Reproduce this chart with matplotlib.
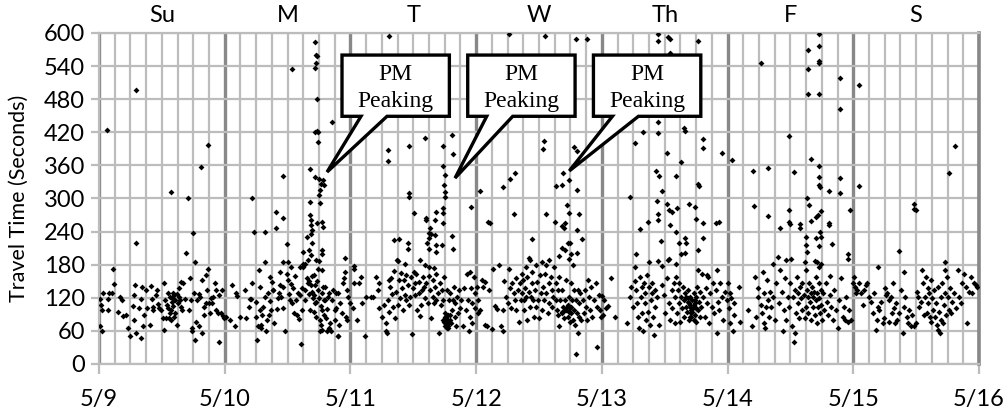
import numpy as np
from matplotlib import pyplot as plt
from matplotlib.patches import Polygon

plt.rcParams['font.family'] = ['Lato', 'DejaVu Sans']

# day names across the top, date labels along the bottom
day_names = ['Su', 'M', 'T', 'W', 'Th', 'F', 'S']
date_labels = ['5/9', '5/10', '5/11', '5/12', '5/13', '5/14', '5/15', '5/16']

# (hour of day, travel time in seconds)
sun = [(0.2, 69), (0.5, 60), (0.2, 118), (0.4, 107), (0.5, 98), (0.7, 129), (1.7, 98), (1.8, 118),
       (2.0, 129), (2.4, 129), (2.7, 172), (2.9, 145), (3.7, 95), (4.1, 122), (4.4, 116), (4.6, 87),
       (5.1, 89), (5.5, 66), (6.0, 50), (6.4, 105), (6.6, 125), (6.7, 80), (6.9, 144), (7.0, 56),
       (7.0, 219), (7.7, 101), (8.0, 47), (8.1, 118), (8.3, 139), (8.4, 68), (8.6, 89), (9.0, 135),
       (9.1, 101), (9.7, 71), (9.9, 141), (10.1, 117), (10.3, 104), (10.4, 98), (10.8, 125), (11.0, 135),
       (11.2, 109), (11.5, 101), (11.9, 98), (12.2, 84), (12.4, 146), (12.4, 62), (12.6, 116), (12.8, 83),
       (13.1, 128), (13.2, 101), (13.4, 83), (13.7, 80), (13.8, 98), (14.0, 119), (14.2, 129), (14.3, 86),
       (14.5, 92), (14.6, 116), (14.8, 126), (14.9, 71), (15.0, 110), (15.2, 122), (15.3, 137), (15.4, 116),
       (15.6, 104), (15.7, 149), (15.9, 98), (16.1, 147), (16.4, 117), (16.7, 202), (17.1, 98), (17.3, 155),
       (17.6, 116), (17.7, 59), (17.8, 65), (18.0, 237), (18.1, 128), (18.3, 43), (18.4, 185), (18.6, 77),
       (18.7, 116), (19.0, 127), (19.1, 68), (19.2, 122), (19.6, 152), (19.7, 57), (20.0, 89), (20.1, 104),
       (20.4, 161), (20.5, 110), (20.6, 135), (20.8, 173), (21.0, 110), (21.1, 93), (21.3, 119), (21.5, 110),
       (21.8, 121), (22.1, 146), (22.3, 98), (22.4, 135), (22.7, 92), (22.9, 125), (23.0, 40), (23.2, 92),
       (23.4, 134), (23.6, 87), (23.8, 83), (1.6, 424), (7.0, 496), (20.8, 397), (19.4, 358), (13.7, 312),
       (17.0, 300), (13.5, 122), (13.9, 112), (14.1, 105), (13.6, 92), (14.4, 125), (12.9, 107)]

mon = [(0.3, 86), (1.0, 80), (1.3, 143), (2.0, 68), (2.1, 129), (2.3, 123), (2.9, 86), (3.8, 135),
       (4.1, 83), (4.6, 104), (4.9, 117), (5.1, 117), (5.3, 146), (5.9, 113), (6.0, 86), (6.2, 43),
       (6.3, 68), (6.7, 98), (6.8, 140), (6.9, 65), (7.0, 71), (7.2, 89), (7.3, 103), (7.6, 122),
       (7.9, 59), (8.1, 80), (8.3, 129), (8.4, 89), (8.6, 158), (8.7, 115), (8.9, 98), (9.0, 149),
       (9.2, 135), (9.3, 134), (9.5, 75), (10.0, 99), (10.2, 119), (10.3, 129), (10.5, 143), (10.6, 166),
       (10.8, 122), (11.1, 101), (11.2, 140), (11.6, 59), (11.9, 164), (12.1, 152), (12.2, 127), (12.4, 116),
       (12.6, 145), (12.9, 110), (13.0, 137), (13.3, 92), (13.5, 159), (13.7, 116), (13.8, 89), (14.0, 129),
       (14.2, 81), (14.3, 125), (14.5, 36), (14.7, 98), (14.8, 137), (15.3, 116), (15.4, 134), (15.8, 155),
       (15.9, 146), (16.1, 127), (16.2, 98), (16.5, 143), (16.7, 131), (17.0, 161), (17.1, 125), (17.2, 110),
       (17.3, 143), (17.5, 86), (17.8, 135), (18.0, 119), (18.2, 59), (18.5, 98), (18.6, 129), (18.9, 116),
       (19.0, 89), (19.1, 140), (19.2, 116), (19.4, 83), (19.7, 122), (19.9, 65), (20.0, 129), (20.3, 60),
       (20.5, 116), (20.6, 134), (21.0, 98), (21.3, 129), (21.6, 50), (21.8, 71), (23.0, 167), (22.8, 155),
       (23.4, 134), (23.6, 122), (23.9, 110), (21.7, 128), (22.0, 110), (22.3, 92), (23.2, 86), (21.7, 51),
       (21.0, 80), (21.3, 101), (22.6, 146), (23.4, 80), (16.0, 150), (16.9, 120), (17.4, 112), (18.3, 105),
       (17.7, 150), (16.6, 160), (18.8, 140), (19.5, 100), (17.0, 95), (18.1, 80), (18.4, 70), (18.6, 62),
       (19.6, 60), (20.1, 75),
       (17.3, 583), (17.5, 561), (17.6, 558), (17.5, 545), (17.3, 537), (12.9, 535), (17.7, 480), (20.4, 439),
       (17.3, 421), (17.7, 422), (17.9, 421), (17.8, 403), (16.2, 353), (11.1, 340), (17.3, 339), (18.0, 336),
       (18.8, 334), (18.4, 327), (19.0, 324), (18.2, 316), (18.0, 306), (5.3, 300), (16.3, 294), (18.2, 292),
       (9.8, 276), (16.3, 270), (11.1, 264), (16.4, 261), (18.5, 258), (18.7, 249), (9.8, 246), (16.4, 252),
       (17.6, 256), (5.5, 240), (7.7, 240), (16.6, 243), (16.4, 235), (11.9, 217), (15.8, 230), (16.6, 219),
       (16.1, 206), (18.5, 206), (18.6, 200), (16.4, 197), (15.9, 188), (17.5, 188), (18.0, 187), (15.3, 182),
       (22.9, 193), (11.2, 184), (12.1, 185), (7.7, 184), (15.0, 176), (17.9, 173), (18.5, 171), (6.5, 170),
       (14.4, 176), (14.9, 182), (15.0, 203), (12.7, 176)]

tue = [(0.4, 101), (0.6, 146), (1.2, 80), (1.6, 147), (2.0, 158), (2.3, 111), (2.7, 50), (3.0, 122),
       (3.9, 122), (4.3, 122), (4.9, 158), (5.2, 134), (5.4, 146), (5.5, 101), (6.1, 85), (6.5, 107),
       (6.7, 59), (6.8, 74), (6.9, 56), (7.1, 116), (7.3, 152), (7.4, 95), (7.6, 140), (7.7, 155),
       (7.9, 126), (8.1, 104), (8.4, 169), (8.5, 83), (8.7, 131), (9.1, 107), (9.3, 152), (9.5, 119),
       (9.7, 165), (9.8, 137), (10.1, 98), (10.3, 152), (10.4, 125), (10.6, 161), (10.7, 116), (10.9, 143),
       (11.2, 107), (11.4, 122), (11.6, 158), (11.7, 54), (11.9, 137), (12.1, 167), (12.3, 146), (12.4, 125),
       (12.5, 164), (12.7, 98), (13.0, 149), (13.1, 128), (13.3, 87), (13.5, 107), (13.7, 134), (13.8, 158),
       (14.1, 140), (14.3, 119), (14.4, 147), (14.8, 110), (15.0, 159), (15.2, 134), (15.4, 83), (15.7, 122),
       (15.8, 152), (15.9, 110), (16.2, 140), (16.3, 164), (16.4, 116), (16.7, 128), (17.0, 56), (17.1, 146),
       (17.2, 107), (17.5, 134), (17.6, 116), (17.7, 80), (17.8, 157), (18.0, 92), (18.1, 68), (18.2, 83),
       (18.4, 134), (18.5, 71), (18.6, 89), (18.7, 65), (18.9, 116), (19.0, 80), (19.1, 128), (19.2, 74),
       (19.4, 98), (19.6, 116), (19.7, 140), (19.9, 86), (20.0, 110), (20.1, 68), (20.4, 122), (20.6, 92),
       (20.8, 134), (21.0, 101), (21.1, 116), (21.4, 68), (21.7, 137), (22.0, 98), (22.3, 164), (22.5, 116),
       (22.7, 59), (22.8, 86), (23.0, 137), (23.2, 110), (23.3, 74), (23.5, 158), (23.7, 101), (23.8, 128),
       (17.9, 77), (18.2, 72), (18.5, 80), (18.7, 69), (18.9, 77), (18.4, 65), (18.1, 86), (19.0, 89),
       (7.4, 595), (14.3, 409), (19.4, 415), (7.2, 388), (11.1, 395), (17.7, 395), (19.6, 380), (7.2, 368),
       (17.7, 359), (18.0, 342), (17.8, 324), (11.1, 310), (11.1, 303), (18.0, 312), (18.0, 303), (23.1, 284),
       (17.7, 282), (17.7, 274), (16.3, 276), (12.1, 273), (14.5, 265), (14.4, 261), (16.1, 261), (17.7, 256),
       (15.1, 246), (15.0, 237), (15.3, 235), (16.1, 233), (15.0, 228), (19.4, 232), (8.3, 225), (9.3, 226),
       (11.0, 220), (14.7, 220), (16.4, 216), (17.4, 216), (10.9, 209), (19.6, 208), (15.0, 208), (16.3, 203),
       (13.3, 188), (8.8, 188), (9.0, 186), (14.2, 179), (15.0, 176), (16.0, 174), (10.4, 182), (22.9, 167),
       (0.6, 177), (0.7, 172)]

wed = [(0.1, 139), (0.3, 116), (0.4, 92), (0.7, 98), (1.1, 153), (1.3, 140), (1.6, 71), (1.7, 149),
       (2.0, 68), (2.5, 134), (3.1, 63), (3.6, 105), (3.9, 99), (4.8, 69), (5.1, 98), (5.1, 60),
       (5.3, 151), (5.7, 122), (6.0, 110), (6.5, 137), (6.6, 101), (6.9, 146), (7.2, 128), (7.4, 116),
       (7.6, 155), (7.7, 98), (7.9, 134), (8.2, 77), (8.3, 146), (8.5, 116), (8.7, 164), (8.8, 128),
       (9.0, 152), (9.1, 98), (9.2, 116), (9.3, 137), (9.6, 122), (9.7, 80), (9.8, 158), (10.1, 131),
       (10.2, 104), (10.4, 122), (10.6, 146), (10.7, 167), (10.9, 116), (11.0, 86), (11.2, 134), (11.4, 104),
       (11.7, 149), (11.9, 116), (12.0, 83), (12.1, 161), (12.3, 128), (12.6, 98), (12.8, 140), (13.0, 116),
       (13.1, 164), (13.4, 128), (13.8, 92), (13.9, 146), (14.0, 110), (14.2, 158), (14.4, 134), (14.5, 104),
       (14.7, 122), (15.2, 146), (15.3, 116), (15.4, 98), (15.6, 134), (15.7, 89), (15.8, 158), (15.9, 68),
       (16.1, 116), (16.3, 92), (16.4, 134), (16.6, 104), (16.8, 83), (17.0, 116), (17.1, 152), (17.2, 98),
       (17.5, 86), (17.7, 122), (17.8, 104), (18.0, 77), (18.1, 146), (18.2, 92), (18.3, 116), (18.5, 80),
       (18.6, 134), (18.7, 98), (18.9, 71), (19.0, 116), (19.1, 19), (19.2, 92), (19.4, 134), (19.5, 56),
       (19.6, 110), (19.7, 86), (19.9, 128), (20.1, 80), (20.4, 116), (20.6, 92), (20.8, 134), (20.9, 104),
       (21.2, 80), (21.4, 152), (21.5, 122), (21.8, 98), (22.0, 140), (22.2, 86), (22.5, 116), (22.8, 146),
       (23.0, 31), (23.1, 104), (23.4, 125), (23.7, 98), (23.9, 86), (17.2, 101), (17.5, 107), (17.7, 95),
       (17.0, 98), (18.0, 101), (16.4, 95), (18.2, 104),
       (6.3, 599), (13.1, 595), (19.0, 589), (21.1, 589), (13.0, 404), (12.8, 389), (18.6, 394), (19.2, 386),
       (7.4, 347), (6.5, 335), (16.6, 347), (0.8, 313), (5.1, 321), (16.4, 325), (15.3, 322), (17.7, 333),
       (19.2, 316), (17.4, 288), (17.7, 274), (19.6, 271), (7.3, 272), (13.3, 272), (2.3, 258), (2.6, 255),
       (15.0, 258), (16.9, 255), (16.3, 250), (16.7, 246), (19.2, 243), (10.7, 226), (20.3, 226), (17.5, 220),
       (17.9, 219), (16.4, 211), (19.2, 202), (16.9, 206), (18.2, 200), (15.8, 196), (10.1, 193), (10.2, 188),
       (13.9, 188), (17.8, 190), (18.5, 179), (13.4, 179), (3.2, 172), (4.4, 179), (6.3, 173), (9.5, 176),
       (11.5, 179), (12.5, 185), (14.9, 176)]

thu = [(0.1, 123), (0.4, 116), (0.7, 101), (0.2, 89), (1.2, 105), (1.7, 155), (2.5, 86), (4.8, 74),
       (5.3, 122), (5.6, 140), (6.0, 104), (6.3, 151), (6.4, 176), (6.5, 134), (6.7, 110), (6.9, 86),
       (7.0, 65), (7.2, 158), (7.4, 122), (7.6, 140), (7.7, 92), (7.8, 59), (8.0, 146), (8.2, 110),
       (8.3, 128), (8.4, 80), (8.6, 161), (8.8, 95), (9.0, 140), (9.1, 71), (9.3, 116), (9.5, 128),
       (9.6, 146), (9.7, 86), (9.9, 53), (10.1, 104), (10.2, 134), (10.5, 122), (10.9, 71), (11.5, 143),
       (11.8, 125), (12.1, 92), (12.4, 155), (12.9, 110), (13.1, 80), (13.3, 134), (13.4, 101), (13.7, 146),
       (13.9, 74), (14.0, 122), (14.2, 158), (14.4, 92), (14.5, 134), (14.7, 110), (14.8, 146), (15.0, 77),
       (15.2, 122), (15.3, 101), (15.4, 140), (15.6, 116), (15.7, 86), (15.9, 128), (16.0, 104), (16.1, 122),
       (16.3, 95), (16.4, 113), (16.5, 134), (16.6, 80), (16.8, 107), (16.9, 122), (17.0, 98), (17.1, 86),
       (17.3, 116), (17.4, 101), (17.5, 128), (17.7, 89), (17.8, 110), (18.0, 77), (18.0, 122), (18.2, 140),
       (18.3, 98), (18.5, 113), (18.7, 86), (18.8, 131), (19.0, 104), (19.2, 164), (19.4, 122), (19.6, 86),
       (19.9, 137), (20.1, 110), (20.3, 158), (20.5, 74), (20.7, 128), (21.0, 104), (21.3, 146), (21.5, 92),
       (21.8, 134), (22.0, 56), (22.2, 113), (22.4, 98), (22.6, 146), (22.9, 122), (23.2, 80), (23.6, 131),
       (23.9, 116), (16.6, 110), (16.9, 104), (17.3, 95), (17.7, 116), (17.1, 92), (17.6, 107), (17.9, 101),
       (16.5, 119), (16.8, 86), (17.5, 80),
       (10.7, 598), (12.6, 592), (13.1, 589), (18.3, 586), (10.7, 586), (13.0, 563), (13.1, 545), (10.7, 439),
       (10.7, 419), (7.9, 420), (15.6, 428), (15.8, 423), (19.4, 407), (19.4, 391), (6.4, 400), (12.4, 383),
       (23.0, 382), (15.2, 366), (10.4, 350), (11.0, 341), (14.2, 341), (18.3, 327), (18.5, 323), (5.3, 302),
       (11.5, 314), (10.5, 296), (12.4, 290), (12.9, 279), (13.4, 276), (14.3, 282), (16.7, 290), (17.8, 285),
       (10.7, 272), (10.7, 261), (8.9, 258), (18.0, 263), (19.4, 255), (21.8, 256), (22.4, 258), (7.2, 244),
       (13.1, 252), (14.2, 240), (15.8, 228), (11.2, 223), (14.8, 219), (16.1, 220), (19.3, 228), (18.4, 206),
       (15.8, 202), (6.5, 199), (12.9, 191), (12.6, 188), (15.2, 200), (10.7, 187), (9.0, 185), (11.4, 177),
       (14.2, 182), (18.4, 171), (21.9, 170), (20.1, 161)]

fri = [(0.1, 146), (0.4, 128), (0.7, 119), (0.2, 101), (1.3, 110), (0.4, 74), (1.2, 89), (2.3, 77),
       (2.1, 140), (1.0, 59), (3.9, 98), (4.6, 68), (5.3, 158), (5.5, 86), (5.8, 122), (5.9, 137),
       (6.3, 107), (6.5, 92), (6.7, 167), (6.9, 74), (7.0, 128), (7.2, 65), (7.4, 104), (7.6, 152),
       (7.7, 116), (7.9, 86), (8.1, 131), (8.3, 104), (8.6, 122), (9.0, 80), (9.3, 146), (9.9, 110),
       (10.1, 170), (10.3, 131), (10.5, 59), (10.7, 98), (11.0, 155), (11.2, 80), (11.5, 122), (11.8, 104),
       (12.0, 146), (12.3, 68), (12.4, 122), (12.6, 40), (12.8, 134), (12.9, 56), (13.1, 92), (13.3, 158),
       (13.4, 128), (13.5, 110), (13.7, 83), (13.9, 140), (14.0, 119), (14.2, 98), (14.3, 146), (14.5, 125),
       (14.7, 83), (14.9, 170), (15.0, 104), (15.2, 134), (15.3, 122), (15.4, 92), (15.6, 146), (15.7, 113),
       (15.9, 128), (16.0, 80), (16.1, 140), (16.3, 122), (16.4, 104), (16.5, 131), (16.6, 89), (16.8, 116),
       (16.9, 158), (17.0, 74), (17.1, 128), (17.3, 104), (17.4, 146), (17.5, 119), (17.7, 92), (17.8, 134),
       (17.9, 107), (18.0, 80), (18.2, 128), (18.5, 98), (18.8, 146), (19.0, 113), (19.2, 89), (19.5, 125),
       (19.7, 104), (20.1, 80), (20.4, 134), (20.7, 98), (21.0, 65), (21.3, 116), (21.7, 155), (22.0, 86),
       (22.2, 104), (22.4, 80), (22.7, 122), (22.9, 77), (23.2, 98), (23.6, 80), (23.9, 146),
       (17.4, 598), (15.4, 570), (17.4, 576), (6.4, 546), (17.4, 549), (17.4, 545), (15.4, 534), (21.5, 519),
       (15.4, 490), (17.4, 489), (21.5, 462), (11.8, 414), (0.8, 369), (15.9, 372), (4.8, 350), (7.7, 356),
       (12.6, 348), (17.4, 359), (17.5, 339), (21.5, 337), (17.5, 324), (17.7, 321), (19.4, 313), (21.5, 310),
       (15.2, 301), (5.1, 287), (23.4, 279), (11.8, 279), (15.5, 288), (17.8, 277), (7.7, 268), (16.9, 267),
       (17.2, 270), (11.8, 258), (12.0, 253), (10.1, 246), (13.9, 253), (13.9, 246), (15.9, 260), (19.4, 256),
       (19.4, 252), (17.7, 240), (14.9, 231), (16.9, 229), (14.9, 216), (17.8, 231), (19.9, 217), (22.9, 199),
       (22.9, 190), (17.4, 213), (15.2, 203), (9.6, 194), (11.2, 188), (12.1, 191), (8.6, 181), (14.7, 185),
       (16.6, 187), (17.1, 185), (17.5, 176), (17.8, 182), (19.6, 159)]

sat = [(0.2, 158), (0.3, 140), (0.5, 128), (0.8, 134), (1.1, 146), (1.4, 128), (1.8, 107), (2.1, 134),
       (2.4, 143), (2.7, 146), (3.0, 122), (3.4, 113), (3.7, 92), (4.0, 128), (4.3, 62), (4.5, 80),
       (4.8, 104), (5.0, 98), (5.3, 113), (5.6, 74), (5.8, 83), (6.0, 137), (6.3, 125), (6.5, 128),
       (6.8, 116), (6.9, 77), (7.2, 122), (7.3, 92), (7.5, 146), (7.7, 101), (7.9, 74), (8.1, 110),
       (8.4, 80), (8.8, 92), (9.1, 134), (9.4, 56), (9.6, 104), (9.8, 122), (10.2, 86), (10.5, 74),
       (10.7, 98), (11.0, 68), (11.3, 89), (11.5, 68), (11.9, 74), (12.1, 131), (12.4, 122), (12.6, 104),
       (12.9, 113), (13.2, 170), (13.4, 146), (13.5, 89), (13.7, 122), (13.9, 158), (14.0, 92), (14.2, 137),
       (14.3, 110), (14.5, 128), (14.7, 86), (14.8, 152), (14.9, 77), (15.1, 119), (15.3, 98), (15.4, 134),
       (15.6, 86), (15.7, 110), (15.9, 71), (16.1, 140), (16.2, 62), (16.4, 95), (16.6, 56), (16.7, 122),
       (16.8, 80), (17.0, 146), (17.2, 74), (17.3, 107), (17.5, 128), (17.7, 89), (17.8, 158), (18.0, 122),
       (18.3, 98), (18.5, 137), (18.6, 92), (18.9, 113), (19.2, 128), (19.6, 101), (19.9, 170), (20.2, 122),
       (20.5, 110), (20.8, 146), (21.1, 164), (21.5, 140), (21.8, 74), (22.1, 131), (22.4, 158), (22.7, 128),
       (23.0, 146), (23.4, 143), (23.6, 140),
       (1.1, 505), (1.1, 323), (19.4, 395), (18.3, 347), (11.6, 290), (11.9, 279), (11.5, 281), (8.8, 205),
       (4.8, 176), (9.7, 167), (17.5, 185), (17.6, 171)]

week = [sun, mon, tue, wed, thu, fri, sat]

# callout boxes: (box left, box right, box bottom, box top, pointer base left, base right, tip x, tip y)
callouts = [(1.933, 2.787, 449, 560, 2.084, 2.291, 1.814, 348),
            (2.933, 3.787, 449, 560, 3.084, 3.291, 2.832, 337),
            (3.933, 4.787, 449, 560, 4.084, 4.291, 3.741, 350)]

fig = plt.figure(figsize=(10.07, 4.17), dpi=100)
ax = fig.add_axes([99 / 1007, 1 - 364 / 417, 880 / 1007, 331 / 417])

for d, pts in enumerate(week):
    hr, sec = np.array(pts, dtype=float).T
    ax.scatter(d + hr / 24, sec, s=9, marker='D', color='black', linewidths=0, zorder=3)

ax.set_xlim(0, 7)
ax.set_ylim(0, 600)
ax.set_yticks(np.arange(0, 601, 60))
ax.set_xticks(np.arange(8))
ax.set_xticklabels(date_labels)
ax.set_xticks(np.arange(0, 7.001, 1 / 8), minor=True)

grid_c = '#BCBCBC'
day_c = '#888888'
ax.grid(which='minor', axis='x', color=grid_c, lw=1.6, zorder=0)
ax.grid(which='major', axis='x', color=day_c, lw=2.4, zorder=1)
ax.grid(which='major', axis='y', color=grid_c, lw=1.6, zorder=0)
ax.set_axisbelow(True)

for side in ['top', 'left', 'bottom']:
    ax.spines[side].set_color(grid_c)
    ax.spines[side].set_linewidth(1.6)
ax.spines['right'].set_color(day_c)
ax.spines['right'].set_linewidth(2.6)

ax.tick_params(axis='x', which='major', length=7, width=1.6, color=grid_c, pad=11, labelsize=17)
ax.tick_params(axis='x', which='minor', length=0)
ax.tick_params(axis='y', length=6, width=1.6, color=grid_c, pad=4, labelsize=17)
ax.set_ylabel('Travel Time (Seconds)', fontsize=15.5, labelpad=11)

for d, name in enumerate(day_names):
    ax.text(d + 0.5, 632, name, ha='center', va='center', fontsize=17, clip_on=False)

for x0, x1, y0, y1, ba, bb, tx, ty in callouts:
    verts = [(x0, y0), (ba, y0), (tx, ty), (bb, y0), (x1, y0), (x1, y1), (x0, y1)]
    ax.add_patch(Polygon(verts, closed=True, facecolor='white', edgecolor='black',
                         lw=2.4, joinstyle='miter', zorder=5))
    ax.text((x0 + x1) / 2, (y0 + y1) / 2 - 4, 'PM\nPeaking', ha='center', va='center',
            family='Liberation Serif', fontsize=17, linespacing=1.4, zorder=6)

fig.savefig('out.png', dpi=100)
